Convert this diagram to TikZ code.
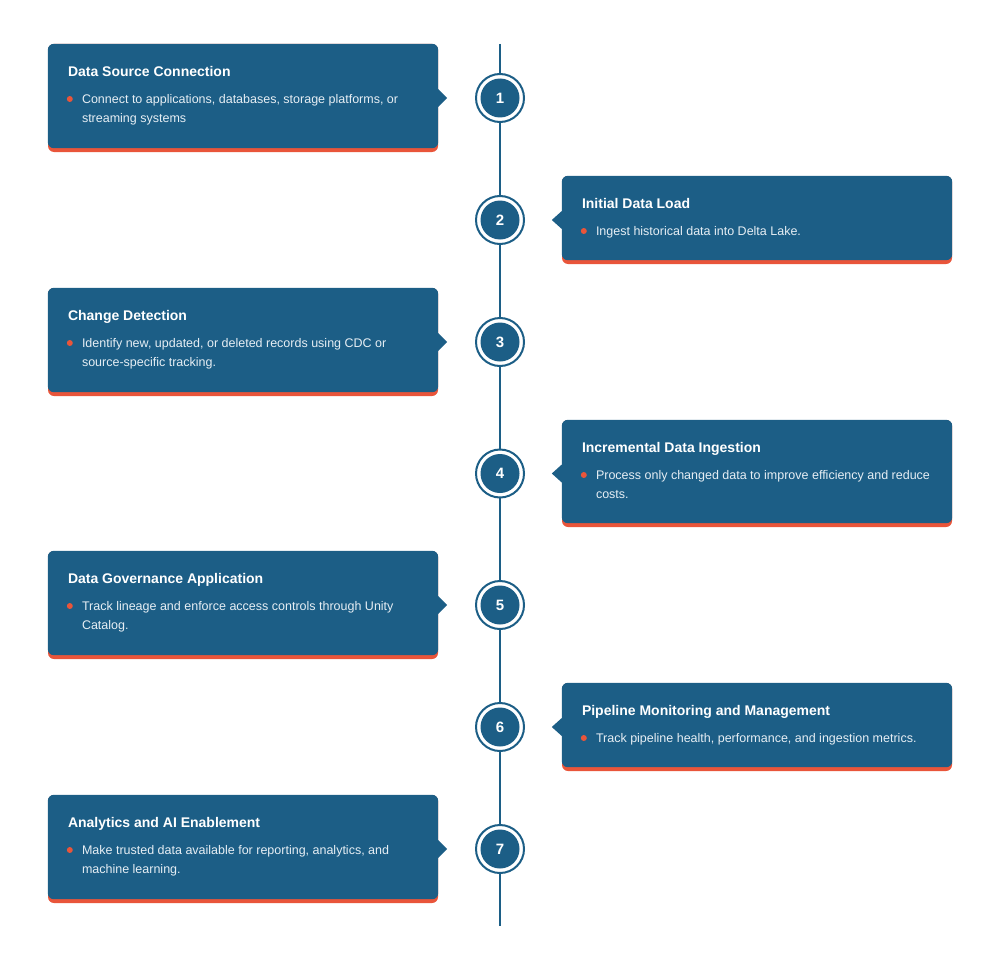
\documentclass[tikz,border=0pt]{standalone}
\usepackage{fontspec}
\setmainfont{Liberation Sans}
\definecolor{tlblue}{HTML}{1C5E86}
\definecolor{tlorange}{HTML}{E9553A}
\definecolor{tltext}{HTML}{E6EEF4}
\tikzset{
  card/.style={rectangle, rounded corners=6pt, fill=tlorange, minimum width=390pt, inner sep=0pt},
  cardface/.style={fill=tlblue, rounded corners=6pt},
  ring/.style={circle, draw=tlblue, line width=2pt, fill=white, minimum size=48pt, inner sep=0pt},
  dot/.style={circle, fill=tlblue, minimum size=39pt, inner sep=0pt, text=white, font=\fontsize{15}{18}\selectfont\bfseries},
  cardtitle/.style={anchor=base west, inner sep=0pt, text=white, font=\fontsize{14}{17}\selectfont\bfseries},
  cardbody/.style={anchor=north west, inner sep=0pt, align=left, text=tltext, font=\fontsize{12.5}{19}\selectfont},
  bullet/.style={circle, fill=tlorange, minimum size=6pt, inner sep=0pt},
  spine/.style={draw=tlblue, line width=2pt},
}
% #1 name, #2 side (L/R), #3 top, #4 height, #5 number, #6 title, #7 body
\newcommand\tlstep[7]{%
  \if L#2
    \node[card, minimum height=#4pt] (#1) at (243,{#3+#4/2}) {};
  \else
    \node[card, minimum height=#4pt] (#1) at (757,{#3+#4/2}) {};
  \fi
  \fill[cardface] (#1.north west) rectangle ([yshift=4pt]#1.south east);
  \node[ring] (#1r) at (500,{#3+#4/2}) {};
  \node[dot] (#1n) at (#1r.center) {#5};
  \if L#2
    \fill[tlblue] (#1.east |- #1r.center) ++(0,-9) -- ++(9,9) -- ++(-9,9) -- cycle;
  \else
    \fill[tlblue] (#1.west |- #1r.center) ++(0,-9) -- ++(-10,9) -- ++(10,9) -- cycle;
  \fi
  \node[cardtitle] (#1t) at ([xshift=20pt]#1.west |- 0,{#3+32.5}) {#6};
  \node[bullet] (#1b) at ([xshift=22pt]#1.west |- 0,{#3+55}) {};
  \node[cardbody] (#1d) at ([xshift=34pt]#1.west |- 0,{#3+50.5}) {#7};
}
\begin{document}
\begin{tikzpicture}[x=1pt,y=-1pt]
\useasboundingbox (0,0) rectangle (1000,971);
\coordinate (top) at (500,44);
\coordinate (bottom) at (500,926);
\draw[spine] (top) -- (bottom);
\tlstep{s1}{L}{44}{108}{1}{Data Source Connection}{Connect to applications, databases, storage platforms, or\\streaming systems}
\tlstep{s2}{R}{176}{88}{2}{Initial Data Load}{Ingest historical data into Delta Lake.}
\tlstep{s3}{L}{288}{108}{3}{Change Detection}{Identify new, updated, or deleted records using CDC or\\source-specific tracking.}
\tlstep{s4}{R}{420}{107}{4}{Incremental Data Ingestion}{Process only changed data to improve efficiency and reduce\\costs.}
\tlstep{s5}{L}{551}{108}{5}{Data Governance Application}{Track lineage and enforce access controls through Unity\\Catalog.}
\tlstep{s6}{R}{683}{88}{6}{Pipeline Monitoring and Management}{Track pipeline health, performance, and ingestion metrics.}
\tlstep{s7}{L}{795}{108}{7}{Analytics and AI Enablement}{Make trusted data available for reporting, analytics, and\\machine learning.}
\end{tikzpicture}
\end{document}
